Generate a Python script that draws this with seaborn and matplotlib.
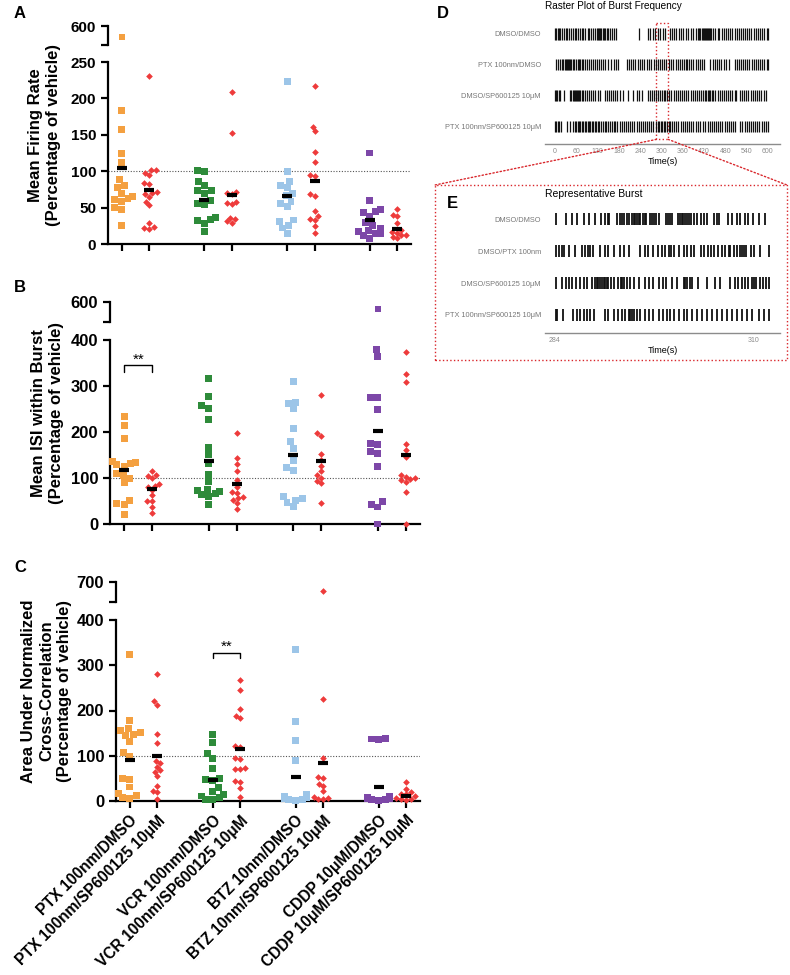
import matplotlib
matplotlib.use("Agg")
import matplotlib.pyplot as plt
from matplotlib.patches import Rectangle, ConnectionPatch
import seaborn as sns
import numpy as np
import pandas as pd

# === Groups ===
groups = ["PTX 100nm/DMSO", "PTX 100nm/SP600125 10μM",
          "VCR 100nm/DMSO", "VCR 100nm/SP600125 10μM",
          "BTZ 10nm/DMSO", "BTZ 10nm/SP600125 10μM",
          "CDDP 10μM/DMSO", "CDDP 10μM/SP600125 10μM"]
slot_order = [groups[0], groups[1], " ", groups[2], groups[3], "  ",
              groups[4], groups[5], "   ", groups[6], groups[7]]
square_palette = {"PTX 100nm/DMSO": "#F4A040", "VCR 100nm/DMSO": "#2E8B3A",
                  "BTZ 10nm/DMSO": "#9CC5E8", "CDDP 10μM/DMSO": "#7D47A8"}
red = "#EE3B3B"

# === A: Mean firing rate (% of vehicle) ===
firing_rate = [
    [585, 183, 157, 124, 112, 88, 81, 78, 70, 65, 63, 61, 58, 50, 48, 25],
    [231, 102, 101, 97, 95, 84, 83, 72, 70, 68, 65, 58, 53, 29, 24, 22, 21],
    [101, 99, 86, 81, 74, 73, 70, 60, 55, 54, 36, 34, 32, 28, 17],
    [209, 152, 72, 70, 68, 58, 57, 55, 36, 34, 31, 29],
    [223, 100, 86, 81, 77, 70, 66, 59, 55, 51, 33, 31, 26, 22, 15],
    [217, 161, 155, 127, 113, 95, 93, 68, 66, 46, 38, 35, 33, 25, 15],
    [125, 60, 48, 44, 43, 38, 29, 26, 22, 18, 17, 15, 14, 12, 8],
    [48, 40, 38, 29, 19, 17, 15, 13, 12, 10, 8],
]
firing_rate_mean = [104, 74, 60, 67, 66, 86, 33, 21]

# === B: Mean ISI within burst ===
isi_burst = [
    [233, 214, 186, 136, 133, 131, 129, 126, 110, 106, 99, 90, 52, 45, 42, 20],
    [115, 107, 104, 101, 87, 83, 80, 74, 63, 51, 50, 38, 23],
    [317, 278, 257, 251, 228, 167, 151, 132, 108, 92, 75, 72, 70, 67, 64, 60, 43],
    [198, 143, 130, 115, 96, 80, 70, 68, 59, 56, 52, 46, 32],
    [309, 264, 262, 250, 207, 179, 165, 139, 123, 116, 59, 56, 52, 46, 38],
    [280, 198, 192, 152, 139, 127, 115, 106, 101, 94, 89, 45],
    [585, 380, 365, 275, 274, 248, 174, 173, 157, 154, 126, 48, 43, 37, 0],
    [375, 327, 309, 173, 160, 145, 106, 103, 100, 98, 95, 92, 69, 0],
]
isi_burst_mean = [117, 77, 138, 88, 151, 136, 202, 150]

# === C: Area under normalized cross-correlation ===
cross_corr = [
    [323, 178, 160, 155, 152, 148, 145, 132, 107, 99, 50, 48, 31, 16, 12, 8, 6],
    [281, 220, 213, 147, 129, 88, 83, 76, 68, 65, 56, 33, 22, 19, 5],
    [148, 130, 104, 93, 72, 50, 48, 46, 30, 21, 15, 11, 7, 4, 3],
    [268, 246, 203, 187, 183, 122, 120, 95, 93, 73, 71, 70, 44, 43, 28, 9],
    [334, 175, 133, 90, 15, 10, 8, 6, 4, 3, 2],
    [681, 225, 95, 52, 50, 38, 33, 21, 9, 7, 5, 4],
    [139, 137, 136, 11, 8, 6, 5, 4, 3, 2],
    [41, 27, 19, 16, 15, 10, 7, 5, 4, 3],
]
cross_corr_mean = [90, 100, 46, 116, 53, 85, 31, 10]

# === D: burst raster (s) ===
raster_labels = ["DMSO/DMSO", "PTX 100nm/DMSO", "DMSO/SP600125 10μM", "PTX 100nm/SP600125 10μM"]
raster_times = [
    [0, 4, 8, 12, 15, 20, 26, 30, 34, 40, 45, 50, 56, 60, 65, 70, 76, 80, 85, 92, 97, 102, 108,
     112, 118, 122, 125, 128, 131, 134, 137, 140, 146, 150, 156, 160, 166, 172, 237, 262, 268,
     275, 283, 290, 296, 303, 310, 324, 330, 336, 342, 350, 356, 362, 370, 376, 383, 390, 397,
     404, 407, 410, 413, 416, 419, 422, 425, 428, 431, 434, 437, 440, 446, 452, 458, 463, 470,
     476, 482, 488, 494, 500, 506, 512, 518, 524, 530, 535, 541, 547, 553, 560, 566, 572, 578,
     584, 590, 596, 600],
    [3, 9, 14, 20, 24, 28, 31, 34, 37, 40, 43, 46, 50, 55, 60, 64, 68, 72, 76, 80, 85, 90, 96,
     102, 108, 112, 118, 124, 130, 136, 142, 150, 158, 166, 172, 178, 203, 208, 214, 220, 226,
     233, 240, 246, 252, 258, 264, 272, 278, 284, 290, 296, 302, 308, 314, 320, 326, 332, 340,
     347, 353, 358, 363, 368, 373, 378, 384, 390, 396, 402, 408, 414, 421, 438, 444, 450, 456,
     462, 468, 475, 482, 490, 507, 512, 518, 524, 530, 536, 542, 548, 554, 560, 566, 572, 578,
     584, 590, 596, 600],
    [0, 3, 7, 11, 14, 26, 42, 46, 50, 54, 57, 60, 63, 66, 69, 72, 76, 80, 85, 90, 96, 102, 108,
     114, 120, 127, 141, 146, 152, 158, 164, 170, 176, 183, 193, 206, 221, 232, 238, 244, 262,
     268, 273, 278, 284, 290, 296, 302, 306, 310, 316, 322, 328, 334, 340, 346, 352, 358, 364,
     370, 376, 382, 388, 394, 400, 406, 412, 418, 422, 426, 430, 434, 438, 442, 446, 452, 458,
     464, 470, 476, 482, 488, 494, 500, 506, 511, 521, 527, 533, 539, 545, 551, 557, 563, 569,
     575, 581, 588, 595],
    [0, 4, 8, 12, 17, 35, 42, 52, 56, 60, 64, 68, 72, 76, 80, 84, 88, 92, 96, 100, 104, 108, 112,
     116, 120, 125, 130, 135, 140, 145, 150, 155, 160, 165, 170, 176, 182, 188, 194, 200, 206,
     212, 218, 224, 230, 236, 242, 248, 254, 260, 266, 272, 277, 286, 290, 294, 298, 302, 306,
     310, 315, 320, 325, 330, 336, 342, 348, 354, 360, 366, 372, 378, 384, 390, 396, 402, 408,
     418, 424, 430, 436, 442, 448, 454, 460, 466, 472, 478, 484, 490, 496, 502, 508, 522, 528,
     534, 540, 546, 552, 558, 564, 570, 576, 582, 588, 594, 600],
]

# === E: representative burst (s) ===
burst_labels = ["DMSO/DMSO", "DMSO/PTX 100nm", "DMSO/SP600125 10μM", "PTX 100nm/SP600125 10μM"]
burst_times = [
    [284.2, 285.4, 286.2, 286.9, 287.8, 288.5, 289.2, 290.0, 290.6, 290.9, 291.1, 292.1, 292.5,
     292.8, 293.1, 293.4, 293.7, 294.1, 294.3, 294.5, 294.7, 295.0, 295.2, 295.5, 295.8, 296.0,
     296.4, 296.7, 297.0, 297.3, 297.7, 298.5, 298.8, 299.1, 299.4, 300.1, 300.4, 300.6, 300.8,
     301.1, 301.3, 301.6, 301.9, 302.2, 302.6, 303.1, 303.5, 303.9, 304.8, 305.2, 305.5, 306.7,
     307.2, 307.8, 308.3, 308.9, 309.3, 310.0, 310.7, 311.5],
    [284.2, 284.6, 284.9, 285.2, 285.8, 286.6, 287.5, 288.0, 288.3, 288.6, 289.0, 289.9, 290.5,
     291.0, 291.7, 292.5, 293.0, 293.7, 295.1, 295.8, 296.2, 296.9, 297.5, 298.0, 298.4, 298.9,
     299.2, 299.6, 300.2, 300.9, 301.3, 301.8, 302.2, 303.1, 303.5, 304.1, 304.5, 304.9, 305.4,
     305.9, 306.3, 306.8, 307.0, 307.5, 307.9, 308.3, 308.5, 308.8, 309.1, 309.7, 310.1, 310.9,
     312.0],
    [284.2, 284.9, 285.5, 285.9, 286.2, 286.7, 287.3, 287.8, 288.2, 288.9, 289.3, 289.5, 289.7,
     289.9, 290.2, 290.4, 290.6, 290.8, 291.0, 291.3, 291.7, 292.3, 292.6, 292.8, 293.0, 293.4,
     293.8, 294.3, 295.0, 295.8, 296.3, 296.9, 297.6, 298.2, 298.6, 299.3, 300.0, 300.9, 301.1,
     301.3, 301.7, 302.0, 302.8, 303.9, 305.0, 305.7, 306.9, 307.6, 308.0, 308.5, 308.9, 309.3,
     309.8, 310.1, 310.4, 310.9, 311.3, 311.7, 312.0],
    [284.1, 284.3, 285.1, 286.4, 286.9, 287.3, 287.8, 288.2, 288.6, 289.1, 290.6, 291.0, 291.7,
     292.3, 292.8, 293.2, 293.7, 293.8, 294.1, 294.3, 294.8, 295.2, 295.8, 296.3, 296.9, 297.6,
     298.2, 298.7, 299.1, 299.6, 300.2, 300.9, 301.3, 302.0, 302.6, 303.3, 303.9, 304.6, 305.2,
     305.9, 306.5, 307.2, 307.9, 308.5, 309.2, 309.8, 310.7, 311.4, 312.0],
]

# === Style ===
sns.set_style("ticks")
plt.rcParams["font.family"] = ["Liberation Sans", "DejaVu Sans"]
plt.rcParams["font.weight"] = "bold"
plt.rcParams["axes.linewidth"] = 1.6
for key in ["text.color", "axes.labelcolor", "xtick.color", "ytick.color", "axes.edgecolor"]:
    plt.rcParams[key] = "black"

W, H = 790, 975
fig = plt.figure(figsize=(W / 100, H / 100), dpi=100)


def box(left, right, top, bottom):
    return [left / W, 1 - bottom / H, (right - left) / W, (bottom - top) / H]


slot_pos = np.array([slot_order.index(g) for g in groups])


def draw_panel(ax_lo, ax_hi, values, means, lo_max, hi_lim, ticks, fs):
    rows = [(g, v) for g, vals in zip(groups, values) for v in vals]
    df = pd.DataFrame(rows, columns=["group", "value"])
    for ax, part in ((ax_lo, df[df.value <= lo_max]), (ax_hi, df[df.value >= hi_lim[0]])):
        sq = part[part.group.str.endswith("/DMSO")]
        dm = part[~part.group.str.endswith("/DMSO")]
        if len(sq):
            sns.swarmplot(data=sq, x="group", y="value", hue="group", order=slot_order,
                          palette=square_palette, marker="s", size=5, linewidth=0,
                          legend=False, warn_thresh=1, ax=ax, zorder=3)
        if len(dm):
            sns.swarmplot(data=dm, x="group", y="value", order=slot_order, color=red,
                          marker="D", size=3.4, linewidth=0, warn_thresh=1, ax=ax, zorder=3)
        for c in ax.collections:
            c.set_clip_on(False)
        ax.set_xlim(-0.5, 10.5)
        ax.set_xlabel("")
        ax.set_ylabel("")
        sns.despine(ax=ax)
        ax.tick_params(width=1.6, length=5, labelsize=fs, direction="out")

    ax_lo.hlines(means, slot_pos - 0.18, slot_pos + 0.18, colors="black", linewidth=3, zorder=5)
    ax_lo.axhline(100, color="#555555", linestyle=(0, (1, 1.5)), linewidth=0.8, zorder=1)
    ax_lo.set_ylim(0, lo_max)
    ax_lo.set_yticks(ticks)
    ax_lo.set_xticks(slot_pos)
    ax_lo.set_xticklabels([])

    ax_hi.set_ylim(*hi_lim)
    ax_hi.set_yticks(hi_lim)
    ax_hi.set_yticklabels(["", str(hi_lim[1])])
    ax_hi.spines["bottom"].set_visible(False)
    ax_hi.tick_params(bottom=False, labelbottom=False)


# Panel A
ax_a = fig.add_axes(box(108, 411, 62, 244))
ax_a2 = fig.add_axes(box(108, 411, 26, 45))
draw_panel(ax_a, ax_a2, firing_rate, firing_rate_mean, 250, (574, 600),
           [0, 50, 100, 150, 200, 250], 11)

# Panel B
ax_b = fig.add_axes(box(110, 420, 340, 524))
ax_b2 = fig.add_axes(box(110, 420, 302, 322))
draw_panel(ax_b, ax_b2, isi_burst, isi_burst_mean, 400, (556, 600),
           [0, 100, 200, 300, 400], 12)
ax_b.plot([0, 0, 1, 1], [330, 345, 345, 330], color="black", linewidth=1)
ax_b.text(0.5, 349, "**", ha="center", va="baseline", fontsize=11, fontweight="normal")

# Panel C
ax_c = fig.add_axes(box(116, 420, 620, 801))
ax_c2 = fig.add_axes(box(116, 420, 582, 602))
draw_panel(ax_c, ax_c2, cross_corr, cross_corr_mean, 400, (656, 700),
           [0, 100, 200, 300, 400], 12)
ax_c.plot([3, 3, 4, 4], [316, 327, 327, 316], color="black", linewidth=1)
ax_c.text(3.5, 331, "**", ha="center", va="baseline", fontsize=11, fontweight="normal")
ax_c.set_xticklabels(groups, rotation=45, ha="right", rotation_mode="anchor", fontsize=11.2)

# y labels and panel letters
fig.text(45 / W, 1 - 135 / H, "Mean Firing Rate\n(Percentage of vehicle)", rotation=90,
         ha="center", va="center", fontsize=12, linespacing=1.25)
fig.text(48 / W, 1 - 413 / H, "Mean ISI within Burst\n(Percentage of vehicle)", rotation=90,
         ha="center", va="center", fontsize=12, linespacing=1.25)
fig.text(47 / W, 1 - 691 / H, "Area Under Normalized\nCross-Correlation\n(Percentage of vehicle)",
         rotation=90, ha="center", va="center", fontsize=12, linespacing=1.25)
for letter, (px, py) in {"A": (20, 14), "B": (20, 288), "C": (20, 568),
                         "D": (443, 13), "E": (452, 203)}.items():
    fig.text(px / W, 1 - py / H, letter, ha="center", va="center", fontsize=12)


def draw_raster(ax, times, labels, xlim, xticks, lw):
    ax.eventplot(times, lineoffsets=range(len(times)), linelengths=0.37,
                 colors="#111111", linewidths=lw)
    ax.set_ylim(3.57, -0.45)
    ax.set_xlim(*xlim)
    ax.set_yticks(range(len(labels)))
    ax.set_yticklabels(labels)
    ax.set_xticks(xticks)
    for s in ["top", "right", "left"]:
        ax.spines[s].set_visible(False)
    ax.spines["bottom"].set_color("#8c8c8c")
    ax.spines["bottom"].set_linewidth(1.0)
    ax.tick_params(axis="y", length=0, pad=3, labelsize=5.3, labelcolor="#777777")
    ax.tick_params(axis="x", length=0, pad=3, labelsize=5, labelcolor="#8c8c8c")
    for t in ax.get_xticklabels() + ax.get_yticklabels():
        t.set_fontweight("normal")
    ax.set_xlabel("Time(s)", fontsize=6.5, fontweight="normal", labelpad=1)


# Panel D
ax_d = fig.add_axes(box(545, 780, 20, 144))
draw_raster(ax_d, raster_times, raster_labels, (-28, 634), list(range(0, 601, 60)), 0.9)
fig.text(545 / W, 1 - 6 / H, "Raster Plot of Burst Frequency", ha="left", va="center",
         fontsize=7.2, fontweight="normal")

# Panel E
ax_e = fig.add_axes(box(545, 780, 205, 333))
draw_raster(ax_e, burst_times, burst_labels, (282.7, 313.5), [284, 310], 1.3)
fig.text(545 / W, 1 - 194 / H, "Representative Burst", ha="left", va="center",
         fontsize=7.5, fontweight="normal")

# zoom box and connectors
red_dot = "#D9262B"
ax_d.add_patch(Rectangle((286, -0.35), 33, 3.77, fill=False, edgecolor=red_dot,
                         linestyle=":", linewidth=1, clip_on=False))
fig.add_artist(Rectangle((435 / W, 1 - 360 / H), 352 / W, 175 / H, fill=False,
                         edgecolor=red_dot, linestyle=":", linewidth=1,
                         transform=fig.transFigure))
for xa, xb in ((286, 435), (319, 787)):
    fig.add_artist(ConnectionPatch(xyA=(xa, 3.42), coordsA=ax_d.transData,
                                   xyB=(xb / W, 1 - 185 / H), coordsB=fig.transFigure,
                                   color=red_dot, linestyle=":", linewidth=1))

fig.savefig("out.png", dpi=100)
plt.close(fig)
print("saved out.png")
